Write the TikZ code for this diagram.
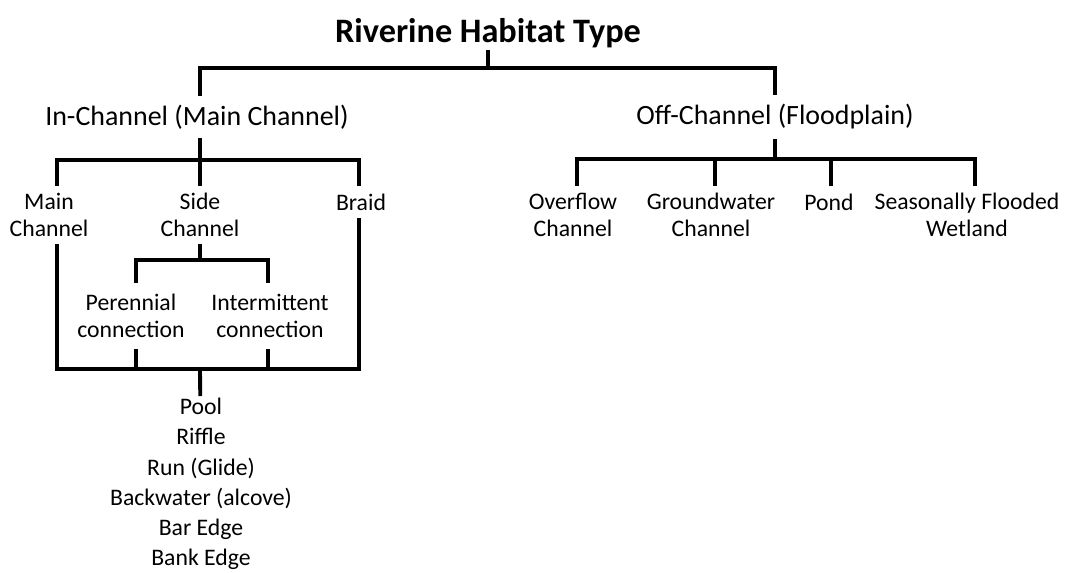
\documentclass[tikz,border=0pt]{standalone}
\usepackage{fontspec}
\setmainfont{Carlito}
\usetikzlibrary{positioning,calc}

\begin{document}
\begin{tikzpicture}[
    x=0.02cm, y=-0.02cm,
    titletext/.style={font=\fontsize{19.5}{23}\selectfont\bfseries, inner sep=1pt},
    grouptext/.style={font=\fontsize{15.9}{19}\selectfont, inner sep=5pt},
    typetext/.style={font=\fontsize{13.5}{15.6}\selectfont, align=center, inner sep=4pt},
    link/.style={line width=2.2pt}
]
\useasboundingbox (0,0) rectangle (1072,572);

% Title
\node[titletext] (habitat) at (488,33) {Riverine Habitat Type};

% Main groups
\node[grouptext] (inch) at (197,117) {In-Channel (Main Channel)};
\node[grouptext] (offch) at (775,117) {Off-Channel (Floodplain)};

% In-channel types
\node[typetext] (mainch) at (49,215) {Main\\Channel};
\node[typetext] (sidech) at (200,215) {Side\\Channel};
\node[typetext] (braid) at (361,202) {Braid};

% Side channel connections
\node[typetext, inner sep=6pt] (peren) at (131,316) {Perennial\\connection};
\node[typetext, inner sep=6pt] (interm) at (270,316) {Intermittent\\connection};

% Channel units
\node[typetext, anchor=north, inner sep=1pt,
      font=\fontsize{13.5}{17.2}\selectfont] (units) at (201,396)
      {Pool\\Riffle\\Run (Glide)\\Backwater (alcove)\\Bar Edge\\Bank Edge};

% Off-channel types
\node[typetext] (overflow) at (573,215) {Overflow\\Channel};
\node[typetext] (ground) at (711,215) {Groundwater\\Channel};
\node[typetext] (pond) at (829,202) {Pond};
\node[typetext] (wetland) at (967,215) {Seasonally Flooded\\Wetland};

% Junctions
\coordinate (j0) at (488,68);
\coordinate (j1) at (200,160);
\coordinate (j2) at (200,260);
\coordinate (j3) at (200,369);
\coordinate (j4) at (775,159);

% Connectors
\draw[link] (habitat) -- (j0);
\draw[link] (j0) -| (inch.north -| j1);
\draw[link] (j0) -| (offch);

\draw[link] (inch.south -| j1) -- (j1);
\draw[link] (j1) -| ($(mainch.north)+(8,0)$);
\draw[link] (j1) -- (sidech);
\draw[link] (j1) -| ($(braid.north)+(-2,0)$);

\draw[link] (sidech) -- (j2);
\draw[link] (j2) -| ($(peren.north)+(5,0)$);
\draw[link] (j2) -| ($(interm.north)+(-2,0)$);

\draw[link] ($(mainch.south)+(8,0)$) |- (j3);
\draw[link] ($(braid.south)+(-2,0)$) |- (j3);
\draw[link] ($(peren.south)+(5,0)$) -- ($(peren.south |- j3)+(5,0)$);
\draw[link] ($(interm.south)+(-2,0)$) -- ($(interm.south |- j3)+(-2,0)$);
\draw[link] (j3) -- (units);

\draw[link] (offch) -- (j4);
\draw[link] (j4) -| ($(overflow.north)+(4,0)$);
\draw[link] (j4) -| ($(ground.north)+(4,0)$);
\draw[link] (j4) -| ($(pond.north)+(2,0)$);
\draw[link] (j4) -| ($(wetland.north)+(8,0)$);

\end{tikzpicture}
\end{document}
